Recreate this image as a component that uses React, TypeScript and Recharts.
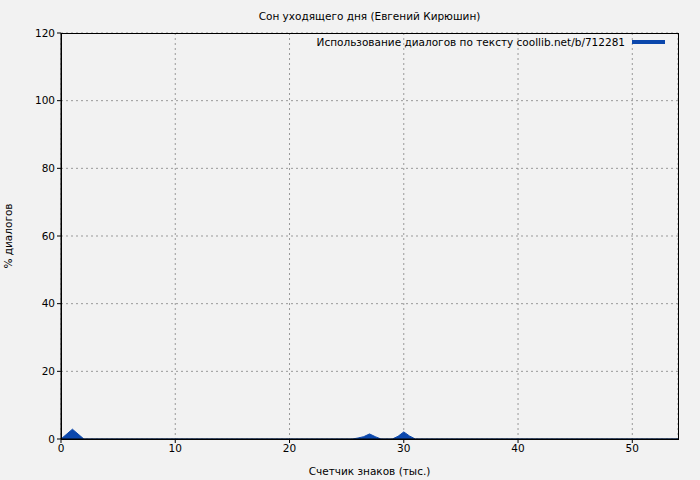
import { AreaChart, Area, XAxis, YAxis, CartesianGrid } from "recharts";

// thousands of characters -> % of text that is dialogue
const chars = [0, 1, 2, 25.5, 26, 26.5, 27, 27.5, 28, 29, 29.5, 30, 30.5, 31, 54];
const dialogPct = [0, 2.9, 0, 0, 0.3, 0.7, 1.5, 0.7, 0, 0, 0.8, 2.1, 0.9, 0, 0];

const xTicks = [0, 10, 20, 30, 40, 50];
const yTicks = [0, 20, 40, 60, 80, 100, 120];

const data = chars.map((x, i) => ({ x, pct: dialogPct[i] }));

const font = "'DejaVu Sans', sans-serif";
const fill = "#0b47ac";
const fs = 10.5;

export default function App() {
    return (
        <div style={{ position: "fixed", left: 0, top: 0, width: 700, height: 480, background: "#f2f2f2", fontFamily: font }}>
            <div style={{ position: "absolute", top: 10, left: 61, width: 617, textAlign: "center", fontSize: fs }}>
                Сон уходящего дня (Евгений Кирюшин)
            </div>
            <AreaChart width={700} height={480} data={data} margin={{ top: 33, right: 22, left: 0, bottom: 0 }}>
                <CartesianGrid stroke="#999" strokeDasharray="2 3" />
                <XAxis
                    dataKey="x"
                    type="number"
                    domain={[0, 54]}
                    ticks={xTicks}
                    height={41}
                    tickSize={4}
                    tickLine={{ stroke: "#000" }}
                    axisLine={{ stroke: "#000" }}
                    tick={{ fill: "#000", fontSize: fs, fontFamily: font }}
                    label={{ value: "Счетчик знаков (тыс.)", position: "insideBottom", offset: 5, fill: "#000", fontSize: fs, fontFamily: font }}
                />
                <YAxis
                    type="number"
                    domain={[0, 120]}
                    ticks={yTicks}
                    width={61}
                    tickSize={4}
                    tickLine={{ stroke: "#000" }}
                    axisLine={{ stroke: "#000" }}
                    tick={{ fill: "#000", fontSize: fs, fontFamily: font }}
                    label={{ value: "% диалогов", angle: -90, position: "insideLeft", offset: 8, textAnchor: "middle", fill: "#000", fontSize: fs, fontFamily: font }}
                />
                <Area type="linear" dataKey="pct" stroke={fill} strokeWidth={1} fill={fill} fillOpacity={1} isAnimationActive={false} />
            </AreaChart>
            <div style={{ position: "absolute", top: 36, right: 35, display: "flex", alignItems: "center", fontSize: fs, color: "#000" }}>
                <span>Использование диалогов по тексту coollib.net/b/712281</span>
                <span style={{ display: "inline-block", width: 33, height: 4, background: fill, marginLeft: 7 }} />
            </div>
            <div style={{ position: "absolute", left: 61, top: 33, width: 616, height: 405, border: "1px solid #000", pointerEvents: "none" }} />
        </div>
    );
}
